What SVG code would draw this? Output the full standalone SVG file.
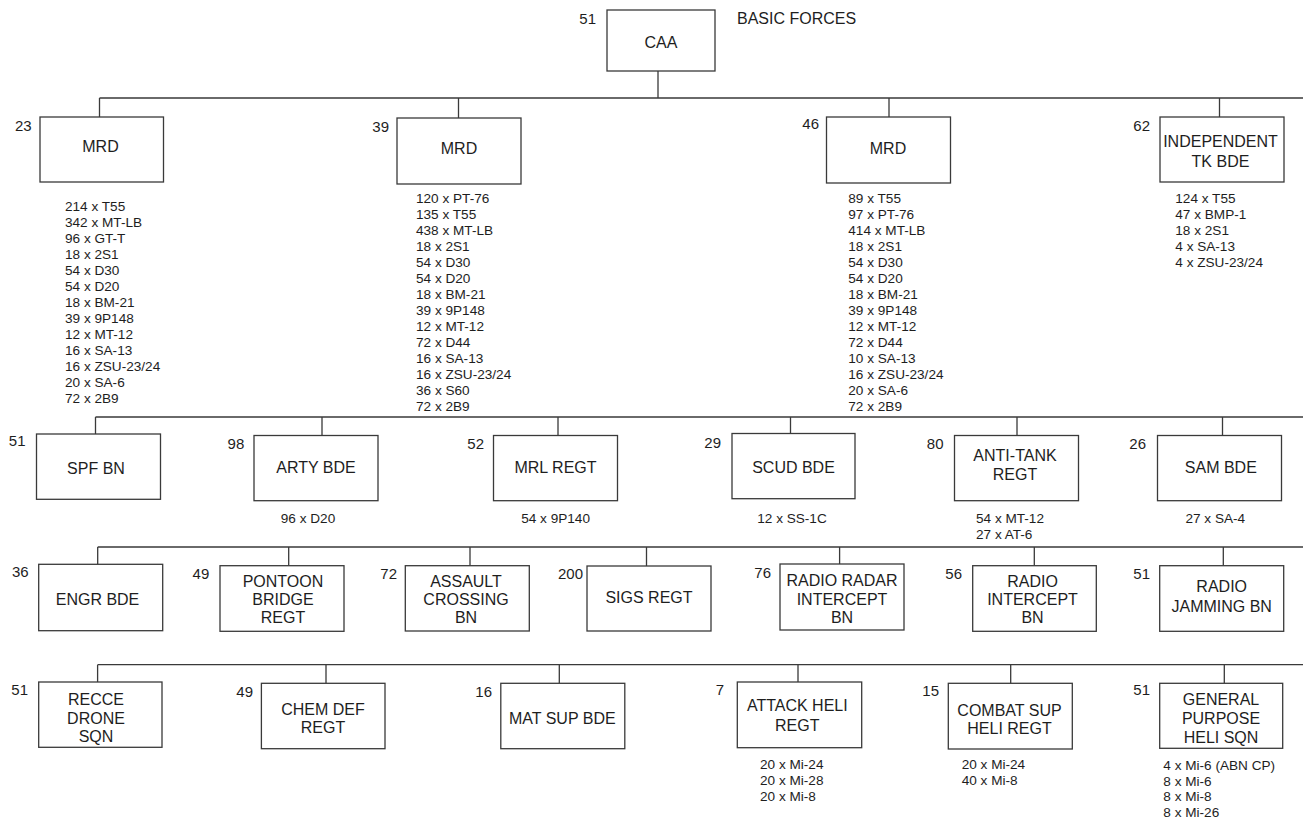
<svg xmlns="http://www.w3.org/2000/svg" width="1303" height="818" viewBox="0 0 1303 818">
<style>
.bg{fill:#ffffff}
.box{fill:#ffffff;stroke:#3a3a3a;stroke-width:1.3}
.ln{fill:none;stroke:#3a3a3a;stroke-width:1.3}
text{font-family:"Liberation Sans",Arial,sans-serif;fill:#1e1e1e}
.lbl{font-size:16px;text-anchor:middle}
.num{font-size:15px;text-anchor:end}
.eq{font-size:13.6px}
.eqm{font-size:13.6px;text-anchor:middle}
.title{font-size:16px}
</style>
<rect class="bg" x="0" y="0" width="1303" height="818"/>
<g id="connectors">
<path class="ln" d="M658 71V98M99.5 98H1303M99.5 98V117M458.5 98V118M889 98V117M1219.5 98V117"/>
<path class="ln" d="M95.5 417H1303M95.5 417V434M322 417V435.5M558 417V435.5M790.5 417V433.5M1017 417V435.5M1222.5 417V435.5"/>
<path class="ln" d="M97.7 547H1303M97.7 547V564.3M288.7 547V565.7M470 547V565.7M646.5 547V566M839.6 547V564M1034.3 547V565.7M1223.3 547V565.7"/>
<path class="ln" d="M97.6 664.7H1303M97.6 664.7V682M326 664.7V683.3M559.3 664.7V683.3M798 664.7V682M1010.7 664.7V683.3M1224.3 664.7V683.3"/>
</g>
<text class="title" x="737" y="23.5">BASIC FORCES</text>
<g id="n_caa"><rect class="box" x="607" y="10" width="108" height="61"/><text class="lbl" x="661" y="47.5">CAA</text><text class="num" x="596" y="23.5">51</text></g>
<g id="n_mrd23"><rect class="box" x="40" y="117" width="123.5" height="65"/><text class="lbl" x="100.5" y="152.3">MRD</text><text class="num" x="31.7" y="130.7">23</text>
<text class="eq" x="65" y="210.7">214 x T55<tspan x="65" dy="16">342 x MT-LB</tspan><tspan x="65" dy="16">96 x GT-T</tspan><tspan x="65" dy="16">18 x 2S1</tspan><tspan x="65" dy="16">54 x D30</tspan><tspan x="65" dy="16">54 x D20</tspan><tspan x="65" dy="16">18 x BM-21</tspan><tspan x="65" dy="16">39 x 9P148</tspan><tspan x="65" dy="16">12 x MT-12</tspan><tspan x="65" dy="16">16 x SA-13</tspan><tspan x="65" dy="16">16 x ZSU-23/24</tspan><tspan x="65" dy="16">20 x SA-6</tspan><tspan x="65" dy="16">72 x 2B9</tspan></text></g>
<g id="n_mrd39"><rect class="box" x="397" y="118" width="124" height="66"/><text class="lbl" x="459" y="154.3">MRD</text><text class="num" x="389" y="132">39</text>
<text class="eq" x="416" y="203.3">120 x PT-76<tspan x="416" dy="16">135 x T55</tspan><tspan x="416" dy="16">438 x MT-LB</tspan><tspan x="416" dy="16">18 x 2S1</tspan><tspan x="416" dy="16">54 x D30</tspan><tspan x="416" dy="16">54 x D20</tspan><tspan x="416" dy="16">18 x BM-21</tspan><tspan x="416" dy="16">39 x 9P148</tspan><tspan x="416" dy="16">12 x MT-12</tspan><tspan x="416" dy="16">72 x D44</tspan><tspan x="416" dy="16">16 x SA-13</tspan><tspan x="416" dy="16">16 x ZSU-23/24</tspan><tspan x="416" dy="16">36 x S60</tspan><tspan x="416" dy="16">72 x 2B9</tspan></text></g>
<g id="n_mrd46"><rect class="box" x="826.5" y="117" width="124" height="66"/><text class="lbl" x="888" y="154.3">MRD</text><text class="num" x="819" y="128.5">46</text>
<text class="eq" x="848.3" y="203.3">89 x T55<tspan x="848.3" dy="16">97 x PT-76</tspan><tspan x="848.3" dy="16">414 x MT-LB</tspan><tspan x="848.3" dy="16">18 x 2S1</tspan><tspan x="848.3" dy="16">54 x D30</tspan><tspan x="848.3" dy="16">54 x D20</tspan><tspan x="848.3" dy="16">18 x BM-21</tspan><tspan x="848.3" dy="16">39 x 9P148</tspan><tspan x="848.3" dy="16">12 x MT-12</tspan><tspan x="848.3" dy="16">72 x D44</tspan><tspan x="848.3" dy="16">10 x SA-13</tspan><tspan x="848.3" dy="16">16 x ZSU-23/24</tspan><tspan x="848.3" dy="16">20 x SA-6</tspan><tspan x="848.3" dy="16">72 x 2B9</tspan></text></g>
<g id="n_itb"><rect class="box" x="1160" y="117" width="124" height="65"/><text class="lbl" x="1220.5" y="146.7">INDEPENDENT</text><text class="lbl" x="1220.5" y="166.7">TK BDE</text><text class="num" x="1150" y="130.7">62</text>
<text class="eq" x="1175.3" y="203.3">124 x T55<tspan x="1175.3" dy="16">47 x BMP-1</tspan><tspan x="1175.3" dy="16">18 x 2S1</tspan><tspan x="1175.3" dy="16">4 x SA-13</tspan><tspan x="1175.3" dy="16">4 x ZSU-23/24</tspan></text></g>
<g id="n_spf"><rect class="box" x="36.5" y="434" width="124" height="65.3"/><text class="lbl" x="96" y="474">SPF BN</text><text class="num" x="25.5" y="446">51</text></g>
<g id="n_arty"><rect class="box" x="254" y="435.5" width="124" height="65.2"/><text class="lbl" x="316" y="472.7">ARTY BDE</text><text class="num" x="244.3" y="449">98</text><text class="eqm" x="308" y="523.3">96 x D20</text></g>
<g id="n_mrl"><rect class="box" x="493.5" y="435.5" width="124" height="65.2"/><text class="lbl" x="555.5" y="473">MRL REGT</text><text class="num" x="484" y="449">52</text><text class="eqm" x="555.6" y="523.3">54 x 9P140</text></g>
<g id="n_scud"><rect class="box" x="732" y="433.5" width="123" height="65.2"/><text class="lbl" x="793.5" y="472.5">SCUD BDE</text><text class="num" x="721" y="447.5">29</text><text class="eqm" x="792" y="523.3">12 x SS-1C</text></g>
<g id="n_at"><rect class="box" x="954.5" y="435.5" width="124" height="65.2"/><text class="lbl" x="1015" y="460.7">ANTI-TANK</text><text class="lbl" x="1015" y="480">REGT</text><text class="num" x="943.5" y="449">80</text>
<text class="eq" x="976" y="522.7">54 x MT-12<tspan x="976" dy="16">27 x AT-6</tspan></text></g>
<g id="n_sam"><rect class="box" x="1157.5" y="435.5" width="124" height="65.2"/><text class="lbl" x="1220.8" y="472.7">SAM BDE</text><text class="num" x="1146" y="449">26</text><text class="eqm" x="1215.3" y="523">27 x SA-4</text></g>
<g id="n_engr"><rect class="box" x="38.7" y="564.3" width="124" height="66.4"/><text class="lbl" x="97.5" y="605">ENGR BDE</text><text class="num" x="28.7" y="576.7">36</text></g>
<g id="n_pontoon"><rect class="box" x="220" y="565.7" width="124" height="65.6"/><text class="lbl" x="283" y="586.7">PONTOON</text><text class="lbl" x="283" y="605">BRIDGE</text><text class="lbl" x="283" y="623.3">REGT</text><text class="num" x="209.3" y="579.3">49</text></g>
<g id="n_assault"><rect class="box" x="405.3" y="565.7" width="124" height="65.3"/><text class="lbl" x="466" y="586.7">ASSAULT</text><text class="lbl" x="466" y="605">CROSSING</text><text class="lbl" x="466" y="623.3">BN</text><text class="num" x="397" y="579">72</text></g>
<g id="n_sigs"><rect class="box" x="587" y="566" width="124" height="65"/><text class="lbl" x="649" y="603">SIGS REGT</text><text class="num" x="583" y="579">200</text></g>
<g id="n_rrib"><rect class="box" x="780" y="564" width="124" height="66"/><text class="lbl" x="842" y="586">RADIO RADAR</text><text class="lbl" x="842" y="604.5">INTERCEPT</text><text class="lbl" x="842" y="623">BN</text><text class="num" x="771" y="577.5">76</text></g>
<g id="n_rib"><rect class="box" x="972.7" y="565.7" width="123.6" height="65.6"/><text class="lbl" x="1032.5" y="586.7">RADIO</text><text class="lbl" x="1032.5" y="605">INTERCEPT</text><text class="lbl" x="1032.5" y="623.3">BN</text><text class="num" x="962" y="579">56</text></g>
<g id="n_rjb"><rect class="box" x="1159.7" y="565.7" width="124" height="65.6"/><text class="lbl" x="1221.7" y="592.3">RADIO</text><text class="lbl" x="1221.7" y="612.3">JAMMING BN</text><text class="num" x="1150" y="579">51</text></g>
<g id="n_recce"><rect class="box" x="38.7" y="682" width="123.3" height="65.3"/><text class="lbl" x="96" y="705">RECCE</text><text class="lbl" x="96" y="723.5">DRONE</text><text class="lbl" x="96" y="742.3">SQN</text><text class="num" x="28" y="695">51</text></g>
<g id="n_chem"><rect class="box" x="261.4" y="683.3" width="123.6" height="65.4"/><text class="lbl" x="323" y="714.8">CHEM DEF</text><text class="lbl" x="323" y="732.5">REGT</text><text class="num" x="253" y="697">49</text></g>
<g id="n_mat"><rect class="box" x="500.8" y="683.3" width="124" height="65.4"/><text class="lbl" x="562.3" y="723.5">MAT SUP BDE</text><text class="num" x="492" y="697">16</text></g>
<g id="n_attack"><rect class="box" x="737.3" y="682" width="124.4" height="65.7"/><text class="lbl" x="797.3" y="711">ATTACK HELI</text><text class="lbl" x="797.3" y="730.7">REGT</text><text class="num" x="724" y="695">7</text>
<text class="eq" x="760" y="769.3">20 x Mi-24<tspan x="760" dy="15.7">20 x Mi-28</tspan><tspan x="760" dy="15.7">20 x Mi-8</tspan></text></g>
<g id="n_combat"><rect class="box" x="948.3" y="683.3" width="124" height="65.7"/><text class="lbl" x="1009.5" y="716">COMBAT SUP</text><text class="lbl" x="1009.5" y="734">HELI REGT</text><text class="num" x="939" y="696">15</text>
<text class="eq" x="961.7" y="769.3">20 x Mi-24<tspan x="961.7" dy="15.7">40 x Mi-8</tspan></text></g>
<g id="n_gp"><rect class="box" x="1159.7" y="683.3" width="123" height="65"/><text class="lbl" x="1221" y="705">GENERAL</text><text class="lbl" x="1221" y="724">PURPOSE</text><text class="lbl" x="1221" y="742.5">HELI SQN</text><text class="num" x="1150" y="695">51</text>
<text class="eq" x="1163.3" y="770">4 x Mi-6 (ABN CP)<tspan x="1163.3" dy="15.7">8 x Mi-6</tspan><tspan x="1163.3" dy="15.7">8 x Mi-8</tspan><tspan x="1163.3" dy="15.7">8 x Mi-26</tspan></text></g>
</svg>
